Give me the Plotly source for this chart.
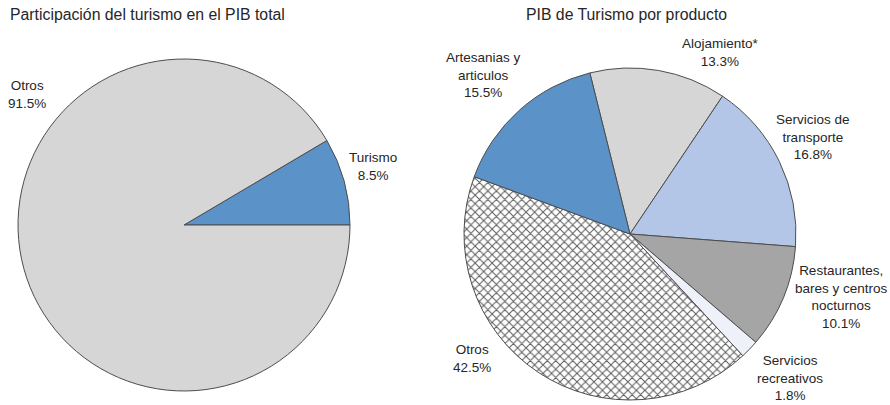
import plotly.graph_objects as go

# Left pie data
left_labels = ["Turismo", "Otros"]
left_values = [8.5, 91.5]
left_colors = ["#5b93c9", "#d6d6d6"]

# Right pie data
right_labels = ["Alojamiento*", "Servicios de transporte", "Restaurantes, bares y centros nocturnos",
                "Servicios recreativos", "Otros", "Artesanias y articulos"]
right_text = ["Alojamiento*", "Servicios de<br>transporte", "Restaurantes,<br>bares y centros<br>nocturnos",
              "Servicios<br>recreativos", "Otros", "Artesanias y<br>articulos"]
right_values = [13.3, 16.8, 10.1, 1.8, 42.5, 15.5]
right_colors = ["#d6d6d6", "#b3c6e7", "#a5a5a5", "#eef1f9", "#ffffff", "#5b93c9"]
right_patterns = ["", "", "", "", "x", ""]

W, H = 890, 405
FONT = "Liberation Sans, Arial, sans-serif"
TXT = "#262626"

fig = go.Figure()

fig.add_trace(go.Pie(
    labels=left_labels, values=left_values, sort=False,
    direction="clockwise", rotation=90 - left_values[0] * 3.6,
    marker=dict(colors=left_colors, line=dict(color="#4d4d4d", width=1)),
    textinfo="none", hoverinfo="label+percent", showlegend=False,
    domain=dict(x=[18 / W, 350 / W], y=[1 - 391 / H, 1 - 59 / H]),
))

fig.add_trace(go.Pie(
    labels=right_labels, values=right_values, sort=False,
    direction="clockwise", rotation=-14,
    marker=dict(colors=right_colors, line=dict(color="#4d4d4d", width=1),
                pattern=dict(shape=right_patterns, fgcolor="#5a5a5a", bgcolor="#ffffff",
                             size=6, solidity=0.3)),
    textinfo="none", hoverinfo="label+percent", showlegend=False,
    domain=dict(x=[464 / W, 796 / W], y=[1 - 400 / H, 1 - 68 / H]),
))

annotations = []

def add_label(text, x, y, anchor="center", size=13.5):
    annotations.append(dict(
        text=text, x=x / W, y=1 - y / H, xref="paper", yref="paper",
        xanchor=anchor, yanchor="middle", showarrow=False, align="center",
        font=dict(family=FONT, size=size, color=TXT),
    ))

# Titles
add_label("Participación del turismo en el PIB total", 8, 15, anchor="left", size=15.8)
add_label("PIB de Turismo por producto", 626, 15, size=15.8)

# Left labels
left_pos = {"Turismo": (373, 166), "Otros": (27, 95)}
for lab, val in zip(left_labels, left_values):
    x, y = left_pos[lab]
    add_label(f"{lab}<br>{val:.1f}%", x, y)

# Right labels
right_pos = [(720, 52), (813, 137), (841, 297), (790, 378), (472, 358), (483, 75)]
for txt, val, (x, y) in zip(right_text, right_values, right_pos):
    add_label(f"{txt}<br>{val:.1f}%", x, y)

fig.update_layout(
    width=W, height=H,
    margin=dict(l=0, r=0, t=0, b=0),
    paper_bgcolor="white", plot_bgcolor="white",
    annotations=annotations,
    font=dict(family=FONT, size=14, color=TXT),
)

fig.write_html("out.html", config={"displayModeBar": False},
               post_script="document.body.style.margin='0';")
